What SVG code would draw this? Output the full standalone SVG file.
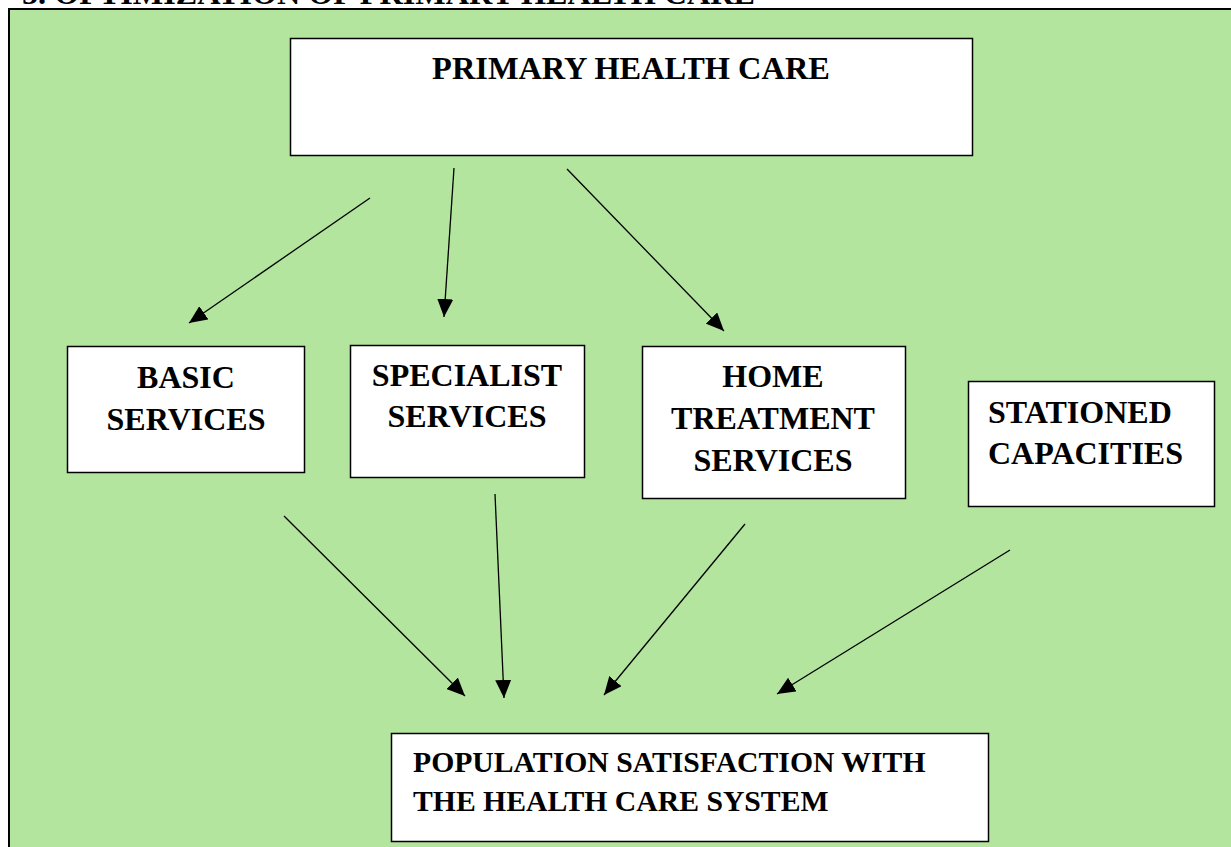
<svg xmlns="http://www.w3.org/2000/svg" width="1231" height="847" viewBox="0 0 1231 847">
<defs>
<style>
.t{font-family:"Liberation Serif","Times New Roman",serif;font-weight:bold;font-size:32px;fill:#000}
.p{font-size:29.7px}
.box{fill:#fff;stroke:#000;stroke-width:1.5}
.c{text-anchor:middle}
.ln{stroke:#000;stroke-width:1.3;fill:none;marker-end:url(#ah)}
</style>
<marker id="ah" markerUnits="userSpaceOnUse" markerWidth="20" markerHeight="16" refX="18" refY="8" orient="auto">
<path d="M0,0 L18,8 L0,16 z" fill="#000"/>
</marker>
</defs>
<rect width="1231" height="847" fill="#fff"/>
<text class="t" x="22" y="4" textLength="733" lengthAdjust="spacingAndGlyphs">5. OPTIMIZATION OF PRIMARY HEALTH CARE</text>
<rect x="9" y="9" width="1240" height="860" fill="#b3e59f" stroke="#000" stroke-width="2"/>
<g id="primary"><rect class="box" x="290.5" y="38.5" width="682" height="117"/><text class="t c" x="631" y="79" style="font-size:32.4px">PRIMARY HEALTH CARE</text></g>
<g id="basic"><rect class="box" x="67.5" y="346.5" width="237" height="126"/><text class="t c" x="186" y="388">BASIC</text><text class="t c" x="186" y="430">SERVICES</text></g>
<g id="specialist"><rect class="box" x="350.5" y="345.5" width="234" height="132"/><text class="t c" x="467" y="386">SPECIALIST</text><text class="t c" x="467" y="427">SERVICES</text></g>
<g id="home"><rect class="box" x="642.5" y="346.5" width="263" height="152"/><text class="t c" x="773" y="387">HOME</text><text class="t c" x="773" y="429">TREATMENT</text><text class="t c" x="773" y="471">SERVICES</text></g>
<g id="stationed"><rect class="box" x="968.5" y="381.5" width="246" height="125"/><text class="t" x="988" y="423">STATIONED</text><text class="t" x="988" y="464">CAPACITIES</text></g>
<g id="population"><rect class="box" x="391.5" y="733.5" width="597" height="108"/><text class="t p" x="413" y="772">POPULATION SATISFACTION WITH</text><text class="t p" x="413" y="811">THE HEALTH CARE SYSTEM</text></g>
<g id="connectors">
<line class="ln" x1="370" y1="198" x2="189" y2="323"/>
<line class="ln" x1="454" y1="168" x2="444" y2="317"/>
<line class="ln" x1="567" y1="169" x2="724" y2="331"/>
<line class="ln" x1="284" y1="516" x2="465" y2="696"/>
<line class="ln" x1="495" y1="494" x2="504" y2="698"/>
<line class="ln" x1="745" y1="524" x2="604" y2="695"/>
<line class="ln" x1="1010" y1="550" x2="777" y2="694"/>
</g>
</svg>
